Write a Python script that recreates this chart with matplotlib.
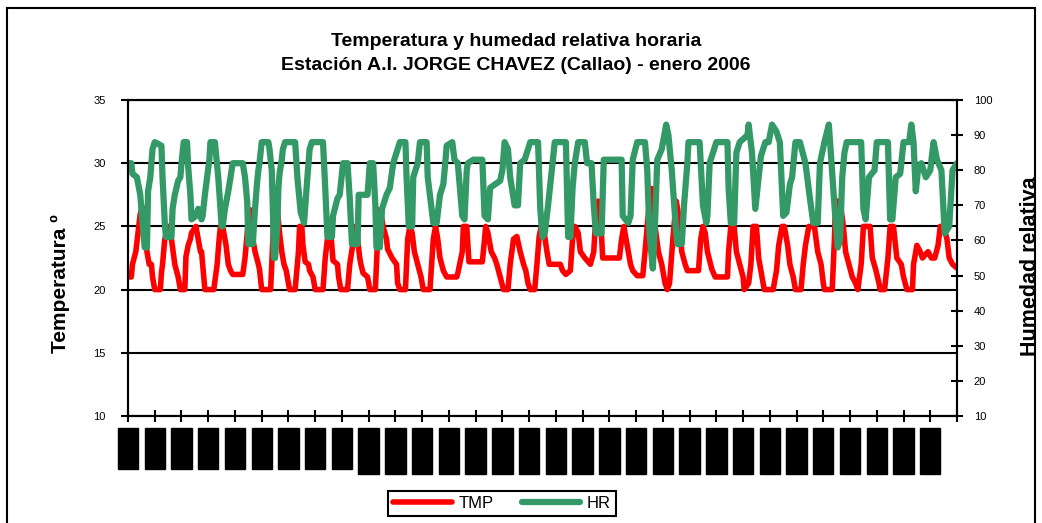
import matplotlib
matplotlib.use("Agg")
import matplotlib.pyplot as plt
from matplotlib.patches import Rectangle

plt.rcParams['font.family'] = ['Liberation Sans', 'DejaVu Sans']

# hourly readings, hour counted from 1 Jan 00h
tmp_hours = [0, 3, 4, 7, 9, 11, 13, 15, 17, 19, 21, 22, 24, 29, 30, 31, 33, 36, 38, 39,
             42, 45, 47, 51, 52, 54, 56, 57, 61, 63, 65, 66, 67, 69, 77, 80, 82, 83, 85, 88,
             90, 92, 94, 103, 105, 107, 109, 110, 112, 114, 117, 118, 120, 128, 130, 132, 134, 136, 138, 140,
             142, 144, 145, 150, 153, 154, 156, 157, 159, 162, 163, 166, 168, 175, 177, 179, 181, 182, 184, 188,
             189, 191, 197, 199, 202, 204, 206, 208, 209, 211, 215, 217, 222, 224, 225, 227, 229, 232, 233, 237,
             241, 242, 244, 249, 251, 253, 255, 257, 260, 263, 265, 271, 274, 276, 278, 280, 283, 286, 295, 296,
             300, 301, 304, 306, 318, 320, 321, 323, 326, 329, 331, 334, 337, 341, 343, 346, 349, 352, 355, 357,
             359, 361, 365, 367, 369, 372, 374, 376, 378, 388, 390, 393, 397, 399, 401, 404, 406, 410, 415, 418,
             420, 422, 424, 426, 441, 443, 445, 448, 451, 453, 457, 462, 464, 467, 469, 470, 473, 476, 479, 482,
             484, 486, 489, 492, 494, 497, 500, 502, 512, 514, 516, 518, 520, 524, 527, 538, 539, 541, 544, 546,
             549, 552, 553, 557, 559, 561, 564, 566, 569, 571, 579, 582, 584, 587, 589, 592, 594, 597, 599, 604,
             606, 608, 611, 616, 619, 622, 624, 625, 632, 634, 635, 639, 642, 644, 647, 650, 653, 655, 658, 660,
             666, 668, 671, 674, 675, 679, 682, 684, 687, 690, 694, 696, 699, 704, 705, 708, 711, 713, 718, 721,
             724, 727, 729, 732, 735, 737, 740, 744]
tmp_values = [21, 21, 22, 23, 24.5, 26, 26.5, 25, 23, 22, 22, 21, 20, 20, 21.3, 22, 24, 25, 25, 24,
              22, 21, 20, 20, 22.6, 23.5, 24, 24.5, 25, 24, 23, 23, 22, 20, 20, 22, 24.2, 25, 25, 23.5,
              22, 21.5, 21.2, 21.2, 22.5, 24.5, 26.3, 26.3, 24, 23, 22, 21.6, 20, 20, 24, 27, 26.3, 24.5, 23, 22,
              21.5, 20.5, 20, 20, 23, 25, 25, 23.5, 22.2, 22, 21.5, 21, 20, 20, 22.5, 24, 25, 24.5, 22.3, 22,
              21, 20, 20, 22, 23.7, 25, 24, 22.5, 22, 21.3, 21, 20, 20, 24, 26.3, 26, 25, 24, 23.2, 22.5,
              22, 20.5, 20, 20, 24, 25, 24.5, 23, 22, 21, 20, 20, 24, 25, 24, 22.5, 21.5, 21, 21, 21.3,
              23, 25, 25, 22.2, 22.2, 24, 25, 24.5, 23, 22.5, 22, 21, 20, 20, 22, 24, 24.2, 23, 22, 21.5,
              20.5, 20, 20, 22, 24.2, 25.5, 24.2, 23, 22, 22, 21.5, 21.2, 21.5, 24, 25, 24.5, 23, 22.5, 22, 23,
              26, 27, 26, 22.5, 22.5, 24, 25, 23.5, 22, 21.5, 21.1, 21.1, 23, 26, 28, 28, 25, 23, 22, 20.5,
              20, 20.5, 24, 27, 26, 23, 22, 21.5, 21.5, 24, 25, 24.5, 23, 21.6, 21, 21, 23, 25, 25, 23,
              22, 21, 20, 20.5, 22, 25, 25, 22.5, 21, 20, 20, 21.5, 23.5, 25, 25, 23.5, 22, 21, 20, 20,
              22, 23.5, 25, 25, 23, 22, 20.5, 20, 20, 24, 27, 27, 25, 23, 22, 21, 20.5, 20, 22, 25,
              25, 22.5, 21.6, 20.5, 20, 20, 22.5, 25, 25, 22.5, 22, 21, 20, 20, 22, 23.5, 23, 22.5, 23, 22.5,
              22.5, 23.5, 25, 25, 24, 22.5, 22, 21.7]

hr_hours = [0, 3, 4, 8, 11, 13, 15, 17, 18, 20, 22, 24, 30, 31, 33, 34, 39, 40, 42, 45,
            47, 48, 50, 53, 54, 56, 57, 61, 63, 66, 67, 69, 71, 73, 74, 78, 81, 83, 84, 85,
            87, 90, 92, 94, 103, 105, 107, 108, 112, 114, 116, 117, 118, 120, 126, 127, 129, 130, 131, 132,
            134, 135, 136, 138, 139, 141, 150, 152, 155, 158, 161, 163, 165, 175, 177, 179, 183, 184, 188, 190,
            193, 197, 199, 201, 206, 207, 210, 215, 217, 220, 222, 223, 226, 228, 232, 235, 238, 244, 249, 250,
            252, 255, 256, 260, 262, 268, 269, 274, 277, 280, 283, 285, 286, 291, 293, 296, 300, 302, 304, 305,
            310, 318, 320, 323, 325, 334, 336, 338, 341, 343, 347, 350, 352, 356, 361, 368, 370, 372, 374, 377,
            381, 383, 393, 395, 397, 399, 401, 404, 410, 412, 416, 418, 420, 425, 427, 443, 444, 449, 451, 453,
            457, 464, 466, 468, 471, 473, 475, 479, 483, 485, 488, 492, 493, 497, 499, 502, 503, 513, 516, 519,
            520, 522, 528, 538, 539, 541, 544, 546, 549, 556, 557, 560, 563, 565, 568, 572, 575, 578, 582, 585,
            588, 591, 594, 596, 599, 603, 608, 612, 615, 619, 621, 625, 629, 634, 637, 639, 641, 643, 645, 658,
            660, 662, 665, 670, 672, 682, 684, 686, 689, 693, 696, 701, 703, 705, 707, 709, 712, 716, 720, 723,
            726, 730, 733, 737, 740, 744]
hr_values = [82, 82, 79, 78, 73, 65, 58, 58, 74, 78, 86, 88, 87, 78, 65, 61, 61, 69, 73, 77,
             78, 82, 88, 88, 81, 73, 66, 67, 69, 66, 67, 73, 78, 83, 88, 88, 78, 69, 64, 64,
             69, 74, 78, 82, 82, 78, 71, 59, 59, 69, 77, 80, 82, 88, 88, 86, 80, 69, 55, 55,
             64, 75, 79, 83, 86, 88, 88, 78, 68, 65, 78, 86, 88, 88, 75, 61, 61, 67, 72, 73,
             82, 82, 72, 59, 59, 73, 73, 73, 82, 82, 70, 58, 58, 69, 73, 75, 82, 88, 88, 78,
             64, 64, 78, 82, 88, 88, 78, 65, 65, 73, 76, 83, 87, 88, 83, 82, 67, 66, 80, 82,
             83, 83, 67, 66, 75, 77, 80, 88, 86, 78, 70, 70, 82, 83, 88, 88, 69, 61, 62, 70,
             82, 88, 88, 61, 61, 75, 82, 88, 88, 82, 82, 70, 62, 62, 83, 83, 67, 65, 67, 83,
             88, 88, 80, 62, 52, 65, 83, 86, 93, 90, 80, 62, 59, 59, 70, 82, 88, 88, 70, 65,
             67, 82, 88, 88, 75, 65, 65, 85, 88, 90, 93, 85, 69, 75, 84, 88, 88, 93, 91, 88,
             67, 68, 76, 78, 88, 88, 82, 72, 65, 65, 82, 88, 93, 70, 58, 60, 78, 85, 88, 88,
             69, 66, 78, 80, 88, 88, 66, 66, 78, 79, 88, 88, 93, 88, 74, 80, 82, 78, 80, 88,
             83, 80, 62, 64, 80, 82]

n_days = 31
day_ticks = [24 * d for d in range(n_days + 1)]
day_labels = [f"{d}/01/06" for d in range(1, n_days + 1)] + [""]

W, H = 1042, 523
fig = plt.figure(figsize=(W / 100, H / 100), dpi=100)
ax = fig.add_axes([128 / W, 1 - 416 / H, 829 / W, 316 / H])

ax.plot(tmp_hours, tmp_values, color='#ff0000', lw=4.0,
        solid_joinstyle='round', solid_capstyle='round', label='TMP')
ax.set_xlim(0, 744)
ax.set_ylim(10, 35)
ax.set_yticks(range(10, 36, 5))
ax.yaxis.grid(True, color='black', lw=1.5)
ax.set_xticks(day_ticks)
ax.set_xticklabels(day_labels, rotation=90, fontsize=6.3)
for lbl in ax.get_xticklabels():
    lbl.set_bbox(dict(boxstyle='square,pad=0.65', fc='black', ec='black'))
ax.tick_params(axis='x', direction='inout', length=8, width=1.5, pad=9)
ax.tick_params(axis='y', direction='out', length=5, width=1.5, labelsize=8, pad=11)
for s in ax.spines.values():
    s.set_linewidth(1.5)
ax.set_ylabel('Temperatura º', fontsize=15, fontweight='bold')
ax.yaxis.set_label_coords(-0.07, 0.42)

ax2 = ax.twinx()
ax2.plot(hr_hours, hr_values, color='#339966', lw=4.5,
         solid_joinstyle='round', solid_capstyle='round', label='HR')
ax2.set_ylim(10, 100)
ax2.set_yticks(range(10, 101, 10))
ax2.tick_params(axis='y', direction='inout', length=8, width=1.5, labelsize=8, pad=8)
for s in ax2.spines.values():
    s.set_linewidth(1.5)
ax2.set_ylabel('Humedad relativa', fontsize=15.5, fontweight='bold')
ax2.yaxis.set_label_coords(1.076, 0.475)

fig.text(516 / W, 1 - 42 / H, 'Temperatura y humedad relativa horaria',
         ha='center', va='center', fontsize=14, fontweight='bold')
fig.text(516 / W, 1 - 65 / H, 'Estación A.I. JORGE CHAVEZ (Callao) - enero 2006',
         ha='center', va='center', fontsize=14, fontweight='bold')

h1, l1 = ax.get_legend_handles_labels()
h2, l2 = ax2.get_legend_handles_labels()
leg = fig.legend(h1 + h2, l1 + l2, loc='center', bbox_to_anchor=(502 / W, 1 - 503 / H),
                 ncol=2, fontsize=12, handlelength=3.5, handletextpad=0.4,
                 columnspacing=1.7, fancybox=False, framealpha=1, borderpad=0.3)
leg.get_frame().set_edgecolor('black')
leg.get_frame().set_linewidth(1.5)

fig.patches.append(Rectangle((7 / W, -0.05), (1035 - 7) / W, 1 - 8 / H + 0.05,
                             transform=fig.transFigure, fill=False, ec='black', lw=1.5))

fig.savefig('out.png', dpi=100)
